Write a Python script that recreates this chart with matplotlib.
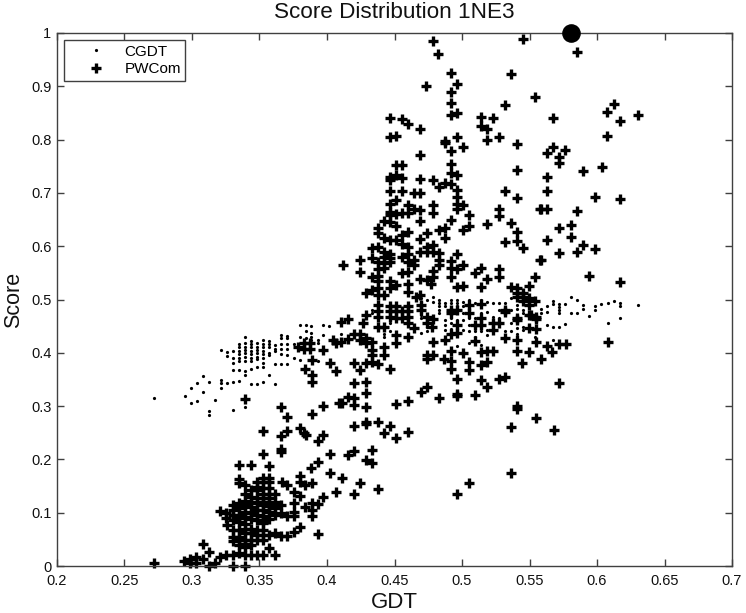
import matplotlib
matplotlib.use("Agg")
import matplotlib.pyplot as plt

plt.rcParams['font.family'] = ['Liberation Sans', 'DejaVu Sans']

title = "Score Distribution 1NE3"
x_label = "GDT"
y_label = "Score"
x_ticks = [0.2, 0.25, 0.3, 0.35, 0.4, 0.45, 0.5, 0.55, 0.6, 0.65, 0.7]
x_tick_labels = ["0.2", "0.25", "0.3", "0.35", "0.4", "0.45", "0.5", "0.55", "0.6", "0.65", "0.7"]
y_ticks = [0, 0.1, 0.2, 0.3, 0.4, 0.5, 0.6, 0.7, 0.8, 0.9, 1]
y_tick_labels = ["0", "0.1", "0.2", "0.3", "0.4", "0.5", "0.6", "0.7", "0.8", "0.9", "1"]
best_point = (0.581, 1.0)

# CGDT: GDT column -> scores
cgdt_columns = {
    0.272: [.315], 0.2945: [.319], 0.299: [.334, .305], 0.3034: [.343, .310],
    0.3079: [.357, .327], 0.3126: [.346, .290, .283], 0.317: [.311],
    0.3215: [.349, .343, .334, .406], 0.3259: [.343, .402, .394],
    0.3304: [.345, .293, .404, .390, .380, .367],
    0.3348: [.348, .416, .410, .404, .398, .391, .385, .367],
    0.3395: [.298, .429, .418, .411, .405, .399, .393, .385, .365, .358],
    0.344: [.423, .417, .410, .404, .398, .391, .385, .369, .341],
    0.3484: [.418, .4115, .405, .399, .393, .388, .374, .341],
    0.3529: [.424, .416, .410, .404, .398, .391, .380, .374, .345],
    0.3573: [.423, .416, .410, .400, .396, .358],
    0.3618: [.415, .408, .404, .379, .341],
    0.3662: [.433, .427, .416, .408, .398, .379],
    0.3707: [.431, .427, .416, .408, .396, .379],
    0.3754: [.416, .390], 0.3798: [.452, .430, .386],
    0.3843: [.452, .440, .427], 0.3885: [.450, .438, .430, .424],
    0.393: [.424, .418, .385], 0.3974: [.452, .433], 0.4018: [.450],
    0.4107: [.436], 0.4335: [.480, .474], 0.4421: [.436, .430],
    0.4466: [.455, .440], 0.4693: [.502, .496, .474, .471, .465, .438],
    0.4738: [.499, .458, .449, .440], 0.4782: [.504, .496],
    0.4827: [.499, .493, .487, .480, .474],
    0.4872: [.493, .487, .462, .452, .443],
    0.4916: [.499, .493, .465, .455, .444],
    0.4961: [.500, .493, .487, .474, .462, .440, .412],
    0.5005: [.496, .487, .474, .462, .443],
    0.5052: [.499, .480, .465, .452, .440, .418],
    0.5097: [.493, .465, .440, .430], 0.5141: [.499, .474, .440, .415],
    0.5186: [.496, .477, .443, .433], 0.523: [.494, .468],
    0.5275: [.493, .480, .465], 0.5319: [.493, .474, .440],
    0.5364: [.502, .480, .455, .440], 0.5408: [.490, .483, .446, .436],
    0.5453: [.480, .475, .449, .443], 0.5497: [.493, .452],
    0.5542: [.493, .430], 0.5586: [.482, .475], 0.5631: [.488, .477, .452],
    0.5675: [.498, .492, .448, .424], 0.572: [.492, .485, .480, .475, .448],
    0.5764: [.492, .454], 0.5809: [.505, .475], 0.5853: [.499, .475],
    0.5898: [.490, .482], 0.5942: [.469], 0.5987: [.488, .480], 0.6031: [.492],
    0.6078: [.494, .455], 0.6123: [.498], 0.6167: [.494, .488, .465],
    0.6301: [.490],
}

# PWCom: (GDT, score) pairs, grouped by region of the plot
pwcom_upper = [
    (.4782,.985),(.545,.988),(.4825,.961),(.4916,.925),(.5364,.923),(.4961,.905),(.4735,.901),
    (.4916,.889),(.5542,.880),(.4916,.869),(.5317,.865),(.4916,.846),(.4961,.849),(.5141,.843),
    (.523,.841),(.4468,.841),(.4557,.839),(.4602,.829),(.5141,.825),(.5183,.819),(.4691,.819),
    (.4468,.805),(.4513,.807),(.4961,.805),(.4872,.797),(.4872,.793),(.5275,.804),(.5183,.799),
    (.5408,.792),(.5005,.787),(.4916,.778),(.4691,.771),(.4513,.753),(.4557,.753),(.4916,.754),
    (.5408,.743),(.4916,.737),(.4961,.733),(.4468,.730),(.4513,.733),(.4557,.728),(.4468,.725),
    (.4691,.727),(.4782,.724),(.4872,.719),(.4916,.717),(.4827,.712),(.4961,.706),(.5317,.704),
    (.4468,.703),(.4557,.703),(.4647,.699),(.4691,.700),(.4961,.693),(.5408,.690),(.4513,.687),
    (.4468,.680),(.4961,.680),(.4602,.678),(.4782,.677),(.5005,.677),(.4961,.670),(.4647,.670),
    (.4691,.667),(.5275,.670),(.5576,.670),(.4468,.665),(.4557,.662),(.4602,.663),(.4782,.663),
    (.505,.658),(.5275,.656),(.4513,.660),(.4468,.658),(.4691,.647),(.4916,.649),(.4421,.647),
    (.4468,.645),(.5183,.642),(.5364,.644),(.4513,.637),(.4377,.634),(.505,.637),(.5005,.631),
    (.4827,.631),(.4872,.634),(.5408,.627),(.4377,.624),(.4602,.627),(.4738,.624),(.4557,.621),
    (.4872,.615),(.4421,.615),(.4468,.612),(.4513,.612),(.4557,.605),(.4691,.613),(.5408,.610),
    (.5317,.607),(.5453,.596),(.4377,.599),(.4782,.602),(.4738,.599),(.4691,.590),(.4738,.590),
    (.4782,.590),(.4827,.588),(.4602,.599),(.4602,.585),(.4332,.596),(.4421,.590),(.4961,.585),
    (.4468,.585),(.4243,.575),(.4332,.577),(.4421,.580),(.4468,.577),(.4557,.579),(.4647,.574),
    (.4827,.574),(.4916,.573),(.5576,.575),(.412,.565),(.4377,.571),(.4421,.568),(.4468,.571),
    (.4602,.571),(.4647,.565),(.4827,.565),(.5005,.564),(.4916,.559),(.4961,.558),(.4243,.552),
    (.4377,.557),(.4421,.560),(.4557,.549),(.4602,.552),(.4782,.554),(.5141,.560),(.5097,.549),
    (.5275,.558),(.5275,.543),(.4332,.543),(.4377,.544),(.4916,.542),(.4782,.542),(.4691,.538),
    (.4738,.537),(.5183,.538),(.5542,.542),(.4377,.534),(.4468,.535),(.4768,.529),(.5497,.526),
    (.4961,.524),(.5005,.525),(.5141,.524),(.4602,.529),(.4602,.515),(.4468,.521),(.4513,.527),
    (.4377,.521),(.4288,.513),(.4332,.517),(.4377,.509),(.4421,.509),(.4691,.509),(.4656,.504),
    (.5364,.524),(.5408,.521),
]
pwcom_right = [
    (.5408,.512),(.5453,.512),(.5408,.505),(.5453,.505),(.5453,.498),(.5497,.503),
    (.5852,.964),(.6124,.867),(.6077,.851),(.6302,.846),(.5674,.841),(.6169,.835),(.6077,.807),
    (.5674,.787),(.5763,.781),(.563,.775),(.5719,.768),(.5719,.757),(.6035,.749),(.5899,.741),
    (.563,.729),(.563,.704),(.5988,.692),(.6169,.689),(.5585,.670),(.563,.670),(.5852,.666),
    (.5719,.634),(.581,.639),(.581,.618),(.563,.612),(.5899,.603),(.5988,.595),(.5719,.588),
    (.5852,.590),(.5585,.575),(.5944,.545),(.6169,.533),(.5541,.498),(.5496,.490),(.551,.471),
    (.5546,.468),(.5318,.477),(.5405,.465),
]
pwcom_middle = [
    (.4377,.490),(.4466,.488),(.4513,.488),(.4602,.488),(.4693,.490),(.4377,.479),(.4466,.479),
    (.4513,.479),(.4557,.479),(.4602,.479),(.4693,.480),(.4916,.480),(.4961,.480),(.5052,.490),
    (.5141,.492),(.5319,.480),(.4377,.468),(.4466,.468),(.4513,.465),(.4557,.465),(.4602,.468),
    (.4738,.468),(.4782,.463),(.4916,.474),(.5052,.474),(.5141,.465),(.5411,.462),(.5497,.471),
    (.5547,.463),(.4288,.471),(.4154,.463),(.41,.458),(.4266,.455),(.4377,.449),(.4421,.449),
    (.4602,.455),(.4738,.455),(.478,.449),(.4961,.452),(.5097,.452),(.5141,.452),(.523,.455),
    (.5275,.455),(.523,.443),(.4644,.446),(.4916,.436),(.4961,.438),(.5497,.446),(.5547,.444),
    (.4199,.436),(.4243,.436),(.4288,.427),(.4513,.433),(.4602,.430),(.4154,.425),(.4243,.424),
    (.4288,.418),(.4335,.421),(.4332,.405),(.4421,.411),(.4513,.418),(.4782,.421),(.4872,.424),
    (.5097,.422),(.5319,.427),(.5411,.424),(.5547,.420),(.5633,.412),(.567,.402),(.572,.416),
    (.5774,.416),(.6078,.420),(.5411,.403),(.5497,.401),(.4916,.403),(.5005,.399),(.5141,.402),
    (.5188,.403),(.523,.403),(.4738,.396),(.4782,.396),(.4738,.388),(.4332,.395),(.4421,.396),
    (.4867,.388),(.4916,.385),(.505,.383),(.5188,.383),(.5141,.377),(.5448,.381),(.5584,.388),
    (.4199,.380),(.4288,.380),(.4377,.379),(.4332,.383),(.4243,.368),(.4466,.370),(.4916,.369),
    (.505,.368),(.4961,.350),(.5141,.349),(.5275,.350),(.5319,.355),(.4199,.343),(.4288,.346),
    (.5188,.335),(.572,.344),(.4738,.336),(.4693,.327),(.4288,.324),(.4154,.318),(.4199,.316),
    (.4199,.302),(.4112,.305),(.4288,.298),(.4602,.310),(.4513,.304),(.4827,.315),(.4961,.323),
    (.4961,.319),(.5097,.321),(.5411,.300),(.5411,.295),(.5547,.277),(.5364,.261),(.5678,.255),
    (.4199,.263),(.4288,.271),(.4288,.266),(.4377,.270),(.4466,.263),(.4421,.249),(.4513,.241),
    (.4602,.252),(.4332,.218),(.4199,.215),(.4154,.208),(.4288,.199),(.4332,.193),(.5364,.174),
    (.4112,.166),(.4243,.155),(.4377,.145),(.4199,.136),(.505,.155),(.4961,.136),
]
pwcom_lower = [
    (.3783,.410),(.3828,.418),(.3828,.408),(.3872,.419),(.3872,.408),(.3971,.406),(.4063,.418),
    (.4045,.424),(.41,.421),(.389,.386),(.4021,.380),(.4063,.365),(.384,.369),(.389,.358),
    (.389,.346),(.3395,.313),(.3662,.299),(.3704,.280),(.389,.285),(.3971,.301),(.4092,.305),
    (.3526,.254),(.3704,.254),(.3662,.243),(.3798,.258),(.3828,.249),(.3848,.246),(.3971,.246),
    (.3932,.235),(.3526,.211),(.3662,.219),(.3662,.213),(.4021,.211),(.3932,.196),(.3885,.183),
    (.3345,.189),(.3437,.189),(.3573,.188),(.4021,.175),(.3345,.164),(.3798,.168),(.3345,.155),
    (.3395,.152),(.3482,.158),(.3526,.158),(.3573,.158),(.3667,.158),(.3704,.152),(.3798,.158),
    (.384,.152),(.389,.155),(.3482,.149),(.3526,.146),(.3573,.146),(.3526,.136),(.3573,.136),
    (.3618,.136),(.3395,.136),(.3437,.130),(.3753,.139),(.3798,.131),(.3753,.119),(.3618,.121),
    (.4063,.138),(.3971,.130),(.3932,.116),(.389,.118),(.384,.110),(.389,.105),(.389,.093),
    (.3753,.102),(.3704,.093),(.3753,.093),(.3662,.114),(.3618,.108),(.3526,.121),(.3573,.118),
    (.3209,.104),(.3254,.100),(.3303,.105),(.3345,.108),(.3395,.114),(.3437,.111),(.3482,.105),
    (.3526,.105),(.3573,.102),(.3303,.096),(.3345,.096),(.3395,.102),(.3437,.099),(.3482,.096),
    (.3526,.093),(.3573,.089),(.3345,.083),(.3259,.077),(.3526,.080),(.3798,.074),(.3753,.064),
    (.3704,.056),(.3662,.056),(.3618,.061),(.3932,.060),(.3345,.067),(.3395,.069),(.3303,.055),
    (.3345,.055),(.3395,.061),(.3437,.061),(.3482,.058),(.3526,.058),(.3395,.049),(.3345,.049),
    (.3437,.049),(.3078,.042),(.3395,.036),(.3123,.027),(.3573,.033),(.3209,.017),(.3254,.021),
    (.3303,.021),(.3345,.024),(.3395,.021),(.3437,.021),(.3482,.021),(.3526,.021),(.3618,.021),
    (.2942,.010),(.2987,.014),(.3031,.017),(.3078,.014),(.2987,.005),(.3031,.006),(.3123,.0),
    (.3172,.006),(.272,.006),(.3303,.0),(.3395,.0),
]
pwcom_dense_blob = [
    (.3303,.115),(.3345,.118),(.3395,.122),(.3437,.120),(.3482,.118),(.3526,.115),(.3573,.112),
    (.3254,.090),(.3303,.086),(.3345,.090),(.3395,.092),(.3437,.088),(.3482,.086),(.3526,.086),
    (.3618,.095),(.3662,.100),(.3482,.128),(.3526,.128),(.3573,.128),(.3437,.142),(.3482,.142),
    (.3526,.165),(.3573,.165),(.3303,.068),(.3303,.046),(.3345,.040),(.3395,.078),(.3437,.070),
    (.3482,.068),(.3526,.068),(.3395,.042),(.3437,.040),(.3482,.048),(.3526,.048),(.3573,.058),
]

cgdt_x = [g for g, scores in cgdt_columns.items() for _ in scores]
cgdt_y = [s for scores in cgdt_columns.values() for s in scores]
pwcom = pwcom_upper + pwcom_right + pwcom_middle + pwcom_lower + pwcom_dense_blob
pwcom_x = [p[0] for p in pwcom]
pwcom_y = [p[1] for p in pwcom]

W, H = 746, 613
fig = plt.figure(figsize=(W / 100, H / 100), dpi=100, facecolor='white')
L, R, T, B = 57, 732, 33, 566
ax = fig.add_axes([L / W, 1 - B / H, (R - L) / W, (B - T) / H])

ax.plot(cgdt_x, cgdt_y, ls='none', marker='o', ms=2.3, mfc='black', mec='black', mew=0,
        label='CGDT', clip_on=False)
ax.plot(pwcom_x, pwcom_y, ls='none', marker='+', ms=7.4, mec='black', mew=2.4,
        label='PWCom', clip_on=False)
ax.plot([best_point[0]], [best_point[1]], ls='none', marker='o', ms=12.4, color='black',
        clip_on=False, zorder=5)

ax.set_xlim(0.2, 0.7)
ax.set_ylim(0, 1)
ax.set_xticks(x_ticks, x_tick_labels)
ax.set_yticks(y_ticks, y_tick_labels)
ax.tick_params(direction='in', length=4.7, width=1, color='#404040', labelsize=10.5,
               top=True, right=True, labelcolor='#111111', pad=4)
ax.tick_params(axis='x', pad=6)
for s in ax.spines.values():
    s.set_color('#404040')
    s.set_linewidth(1)

ax.set_title(title, fontsize=16.2, pad=10.5, color='#111111')
ax.set_xlabel(x_label, fontsize=16, labelpad=3, color='#111111')
ax.set_ylabel(y_label, fontsize=15.5, labelpad=5, color='#111111')

leg = ax.legend(loc='upper left', bbox_to_anchor=((64 - L) / (R - L), 1 - (40 - T) / (B - T)),
                borderaxespad=0, fontsize=11, frameon=True, fancybox=False, framealpha=1,
                edgecolor='#404040', borderpad=0.3, labelspacing=0.22, handlelength=3.6,
                handletextpad=0.05, numpoints=1)
leg.get_frame().set_linewidth(1)

fig.savefig('out.png', dpi=100)
